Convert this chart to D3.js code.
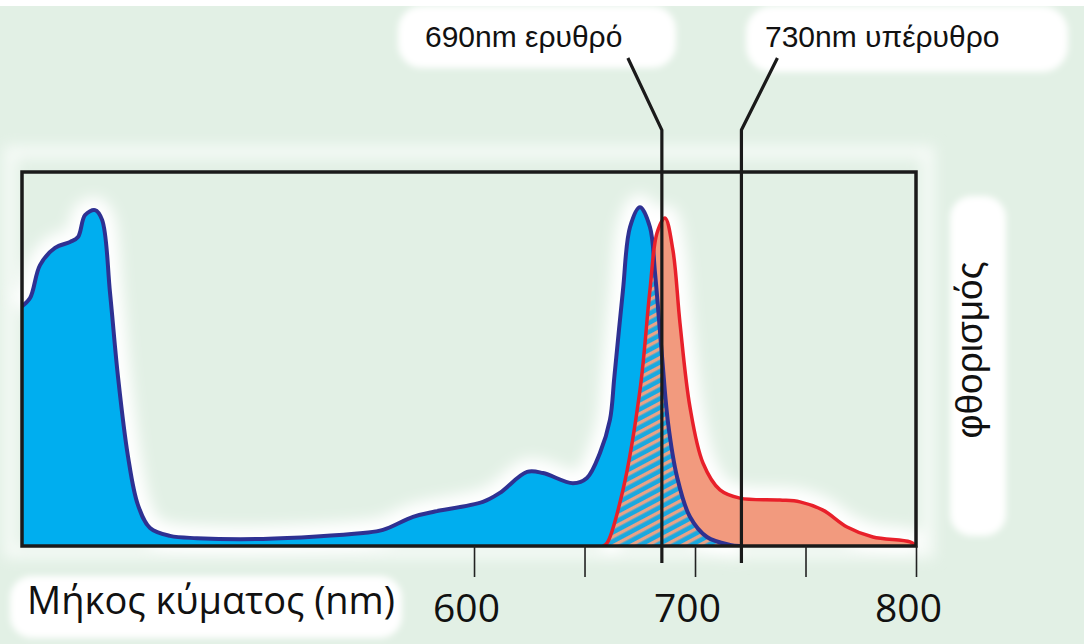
<!DOCTYPE html>
<html>
<head>
<meta charset="utf-8">
<script src="https://cdn.jsdelivr.net/npm/d3@7"></script>
<style>
  html, body { margin: 0; padding: 0; background: #ffffff; }
  svg { display: block; }
</style>
</head>
<body>
<svg id="chart" width="1084" height="644"></svg>
<script>
// absorption curve (blue)
const absorbNm  = [395, 399.1, 403.6, 410.4, 417.2, 420.8, 424.0, 428.5, 431.7, 435.3, 438.9, 443.4, 447.9, 453.4, 462.4, 474.6, 504.5, 549.8, 558.8, 572.4, 581.4, 604.0, 611.7, 624.0, 631.2, 644.8, 651.1, 657.0, 661.5, 663.5, 667.4, 670.6, 675.1, 679.6, 681.9, 685.1, 687.8, 691.9, 697.7, 705.4, 715.8, 720.3];
const absorbVal = [63.9, 66.3, 75.1, 79.7, 81.3, 82.6, 88.5, 89.8, 87.2, 67.6, 45.2, 24.0, 11.0, 4.8, 2.7, 2.1, 1.9, 3.5, 4.3, 7.8, 9.1, 11.8, 14.2, 19.8, 19.5, 16.8, 18.2, 24.9, 33.7, 45.2, 68.4, 85.3, 90.6, 85.3, 73.0, 50.5, 32.9, 18.4, 7.8, 2.4, 0.3, 0];

// fluorescence curve (red)
const emitNm  = [658.3, 660.2, 667.4, 675.1, 679.6, 682.8, 686.4, 690.0, 693.2, 697.7, 703.6, 711.3, 720.3, 738.4, 747.5, 757.9, 768.8, 780.5, 797.3, 800];
const emitVal = [0, 0.8, 15.0, 41.7, 68.4, 83.7, 87.7, 79.1, 59.6, 37.2, 22.2, 15.0, 12.8, 12.3, 11.8, 9.6, 5.1, 2.4, 1.1, 0];

const tickNm = [600, 650, 700, 750, 800];
const tickLabels = ["600", "", "700", "", "800"];
const markerNm = [685, 721];
const markerLabels = ["690nm ερυθρό", "730nm υπέρυθρο"];
const xTitle = "Μήκος κύματος (nm)";
const yTitle = "φθορισμός";

const svg = d3.select('#chart');
const width = +svg.attr('width');
const height = +svg.attr('height');

const box = {left: 22, right: 916, top: 172, bottom: 546};

const x = d3.scaleLinear().domain([395, 800]).range([box.left - 1, box.right]);
const y = d3.scaleLinear().domain([0, 100]).range([box.bottom, box.top]);

const absorb = absorbNm.map((d, i) => ({nm: d, v: absorbVal[i]}));
const emit = emitNm.map((d, i) => ({nm: d, v: emitVal[i]}));

const defs = svg.append('defs');

const blur = defs.append('filter').attr('id', 'glow')
  .attr('x', '-20%').attr('y', '-20%').attr('width', '140%').attr('height', '140%');
blur.append('feGaussianBlur').attr('stdDeviation', 7);

const soft = defs.append('filter').attr('id', 'soft')
  .attr('x', '-20%').attr('y', '-20%').attr('width', '140%').attr('height', '140%');
soft.append('feGaussianBlur').attr('stdDeviation', 3);

// hatch for the overlap
const hatch = defs.append('pattern').attr('id', 'hatch')
  .attr('patternUnits', 'userSpaceOnUse')
  .attr('width', 8).attr('height', 8)
  .attr('patternTransform', 'rotate(-28)');
hatch.append('rect').attr('width', 8).attr('height', 8).attr('fill', '#1aa9e0');
hatch.append('rect').attr('width', 8).attr('height', 3.4).attr('fill', '#e9a287');

const curve = d3.curveCatmullRom.alpha(0.5);
const area = d3.area().x(d => x(d.nm)).y0(y(0)).y1(d => y(d.v)).curve(curve);
const line = d3.line().x(d => x(d.nm)).y(d => y(d.v)).curve(curve);

defs.append('clipPath').attr('id', 'emitClip')
  .append('path').attr('d', area(emit));
defs.append('clipPath').attr('id', 'boxClip')
  .append('rect').attr('x', box.left).attr('y', box.top)
  .attr('width', box.right - box.left).attr('height', box.bottom - box.top);

// background
svg.append('rect').attr('width', width).attr('height', height).attr('fill', '#e2f0e5');
svg.append('rect').attr('width', width).attr('height', 6).attr('fill', '#ffffff');

const glows = svg.append('g').attr('filter', 'url(#glow)').attr('fill', '#ffffff');
glows.append('rect').attr('x', box.left - 12).attr('y', box.top - 20)
  .attr('width', box.right - box.left + 24).attr('height', box.bottom - box.top + 26)
  .attr('fill', 'none').attr('stroke', '#f7fbf8').attr('stroke-width', 12);
glows.append('path').attr('d', line(absorb)).attr('fill', 'none')
  .attr('stroke', '#ffffff').attr('stroke-width', 26);
glows.append('path').attr('d', line(emit)).attr('fill', 'none')
  .attr('stroke', '#ffffff').attr('stroke-width', 26);

// white patches behind the texts
const patches = svg.append('g').attr('filter', 'url(#soft)').attr('fill', '#ffffff');
patches.append('rect').attr('x', 398).attr('y', 6).attr('width', 278).attr('height', 62).attr('rx', 24);
patches.append('rect').attr('x', 746).attr('y', 6).attr('width', 322).attr('height', 66).attr('rx', 26);
patches.append('rect').attr('x', 950).attr('y', 196).attr('width', 56).attr('height', 340).attr('rx', 22);
patches.append('rect').attr('x', 10).attr('y', 576).attr('width', 392).attr('height', 62).attr('rx', 22);

const plot = svg.append('g').attr('clip-path', 'url(#boxClip)');

plot.append('path').attr('d', area(emit)).attr('fill', '#f29a7e');
plot.append('path').attr('d', area(absorb)).attr('fill', '#00aeef');
plot.append('g').attr('clip-path', 'url(#emitClip)')
  .append('path').attr('d', area(absorb)).attr('fill', 'url(#hatch)');

plot.append('path').attr('d', line(absorb)).attr('fill', 'none')
  .attr('stroke', '#2e3192').attr('stroke-width', 4).attr('stroke-linejoin', 'round');
plot.append('path').attr('d', line(emit)).attr('fill', 'none')
  .attr('stroke', '#e8202a').attr('stroke-width', 3.5).attr('stroke-linejoin', 'round');

// frame
svg.append('rect').attr('x', box.left).attr('y', box.top)
  .attr('width', box.right - box.left).attr('height', box.bottom - box.top)
  .attr('fill', 'none').attr('stroke', '#1a1a1a').attr('stroke-width', 3.5);

// axis ticks
const xAxis = d3.axisBottom(x).tickValues(tickNm).tickSize(31).tickFormat((d, i) => tickLabels[i]);
const axisG = svg.append('g').attr('transform', `translate(0,${box.bottom})`).call(xAxis);
axisG.select('.domain').remove();
axisG.selectAll('.tick line').attr('stroke', '#222').attr('stroke-width', 1.6);
axisG.selectAll('.tick text')
  .attr('y', 76).attr('dy', 0).attr('dx', -8)
  .attr('fill', '#111')
  .style('font-family', '"Open Sans", sans-serif')
  .style('font-size', '39px');

// marker lines with leaders
const leaderDx = [-34, 36];
const markers = svg.append('g');
markerNm.forEach((nm, i) => {
  const mx = x(nm);
  markers.append('polyline')
    .attr('points', `${mx},563 ${mx},130 ${mx + leaderDx[i]},58`)
    .attr('fill', 'none').attr('stroke', '#1a1a1a').attr('stroke-width', 3.2)
    .attr('stroke-linejoin', 'miter');
});

svg.append('g').selectAll('text').data(markerLabels).enter().append('text')
  .attr('x', (d, i) => [425, 765][i])
  .attr('y', 47)
  .attr('fill', '#111')
  .style('font-family', '"Liberation Sans", Arial, sans-serif')
  .style('font-size', '30px')
  .text(d => d);

svg.append('text')
  .attr('x', 27).attr('y', 614)
  .attr('fill', '#111')
  .style('font-family', '"Open Sans", sans-serif')
  .style('font-size', '38px')
  .attr('textLength', 368)
  .text(xTitle);

svg.append('text')
  .attr('transform', 'translate(982,350) rotate(-90)')
  .attr('text-anchor', 'middle')
  .attr('fill', '#111')
  .style('font-family', '"Liberation Sans", Arial, sans-serif')
  .style('font-size', '37px')
  .text(yTitle);
</script>
</body>
</html>
